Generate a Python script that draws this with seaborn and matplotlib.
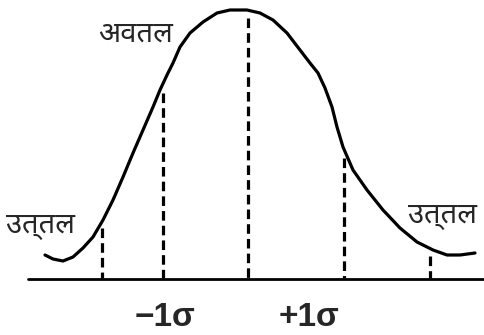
import matplotlib
matplotlib.use("Agg")
import matplotlib.pyplot as plt
import seaborn as sns
import pandas as pd

# curve (pixel coordinates, y downwards)
curve_x = [45, 53, 63, 73, 83, 93, 103, 113, 123, 133, 143, 153, 160, 167, 173, 180,
           190, 203, 217, 230, 247, 260, 273, 287, 300, 310, 318, 325, 332, 337, 343,
           353, 367, 383, 400, 417, 433, 447, 460, 475]
curve_y = [255, 259, 261, 257, 248, 237, 220, 200, 177, 153, 130, 107, 90, 75, 63, 47,
           33, 22, 13, 10, 10, 13, 20, 33, 50, 63, 73, 88, 107, 127, 147,
           170, 190, 210, 228, 242, 250, 255, 255, 253]

# dashed ordinates: x position and top end
ord_x = [102, 163, 248, 344, 430]
ord_top = [228, 93, 18, 158, 256]
base_y = 279

sigma_labels = ["\u22121\u03c3", "+1\u03c3"]
sigma_x = [165, 309]
word_labels = ["अवतल", "उत्तल", "उत्तल"]
word_x = [136, 40, 443]
word_y = [34, 225, 215]

sns.set_theme(style="white")
df = pd.DataFrame({"x": curve_x, "y": curve_y})

fig = plt.figure(figsize=(4.84, 3.35), dpi=100)
ax = fig.add_axes([0, 0, 1, 1])
sns.lineplot(data=df, x="x", y="y", sort=False, estimator=None, color="black", lw=2.3,
             solid_joinstyle="round", solid_capstyle="round", ax=ax)
ax.vlines(ord_x, ord_top, base_y - 1, colors="black", linestyles=(0, (3, 1.6)), lw=2.3)
ax.plot([28, 484], [base_y, base_y], color="black", lw=2)

for lab, x in zip(sigma_labels, sigma_x):
    ax.text(x, 318, lab, ha="center", va="center", fontsize=24, fontweight="bold",
            family=["Liberation Sans", "DejaVu Sans"])
for lab, x, y in zip(word_labels, word_x, word_y):
    ax.text(x, y, lab, ha="center", va="center", fontsize=21, fontweight="bold",
            family=["Noto Sans Devanagari", "DejaVu Sans"])

ax.set_xlim(0, 484)
ax.set_ylim(335, 0)
ax.axis("off")
fig.savefig("out.png", dpi=100)
